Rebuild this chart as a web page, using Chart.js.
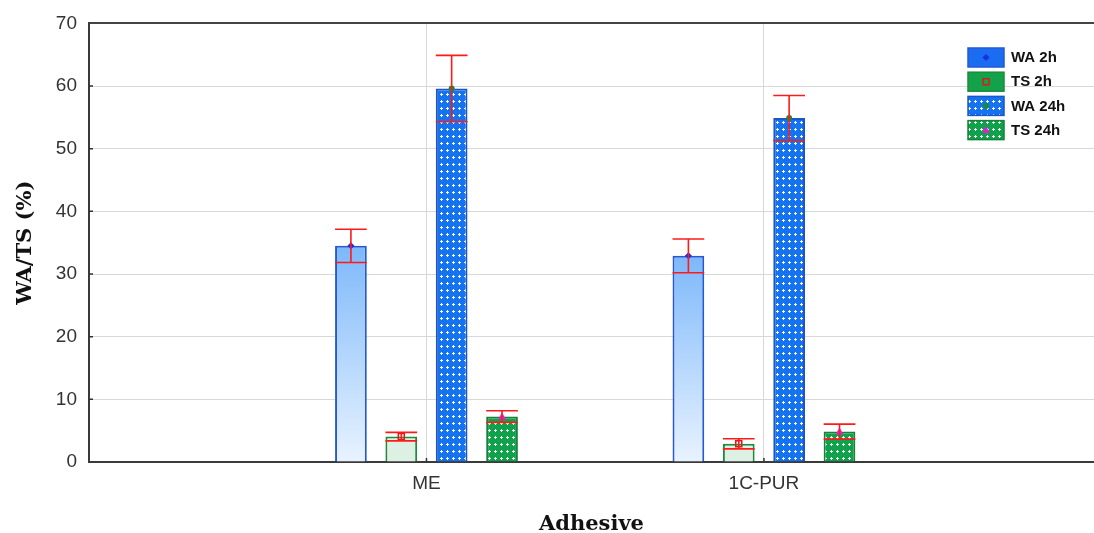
<!DOCTYPE html>
<html>
<head>
<meta charset="utf-8">
<script src="https://cdn.jsdelivr.net/npm/chart.js@4.4.1/dist/chart.umd.min.js"></script>
<style>
body{margin:0;background:#fff;}
#wrap{width:1094px;height:533px;}
</style>
</head>
<body>
<div id="wrap"><canvas id="canvas"></canvas></div>
<script>
var categories = ['ME', '1C-PUR'];
var seriesNames = ['WA 2h', 'TS 2h', 'WA 24h', 'TS 24h'];
var wa2h = [34.5, 32.9];
var wa2hErr = [2.65, 2.7];
var ts2h = [4.05, 2.9];
var ts2hErr = [0.68, 0.8];
var wa24h = [59.6, 54.9];
var wa24hErr = [5.3, 3.6];
var ts24h = [7.25, 4.85];
var ts24hErr = [0.92, 1.2];
var yTicks = [0, 10, 20, 30, 40, 50, 60, 70];

// x is a linear axis: categories sit at 1 and 2
function points(arr){
    return arr.map(function(v, i){ return {x: i + 1, y: v}; });
}

function makePattern(bg){
    var c = document.createElement('canvas');
    c.width = 6; c.height = 7;
    var g = c.getContext('2d');
    g.fillStyle = bg;
    g.fillRect(0, 0, 6, 7);
    g.fillStyle = 'rgba(255,255,255,0.95)';
    g.fillRect(2, 3, 3, 1);
    g.fillRect(3, 2, 1, 3);
    return g.createPattern(c, 'repeat');
}
var bluePattern = makePattern('#1572f0');
var greenPattern = makePattern('#0fa24a');

function blueGradient(c){
    var chart = c.chart;
    if (!chart.chartArea || !chart.scales.y || !c.parsed) return '#a8d0ff';
    var y = chart.scales.y;
    var g = chart.ctx.createLinearGradient(0, y.getPixelForValue(c.parsed.y), 0, y.getPixelForValue(0));
    g.addColorStop(0, '#7db8fa');
    g.addColorStop(1, '#e8f3ff');
    return g;
}

function drawMarker(ctx, kind, x, y, color){
    ctx.save();
    ctx.fillStyle = color;
    ctx.strokeStyle = color;
    ctx.lineWidth = 1.5;
    ctx.beginPath();
    if (kind == 'diamond'){
        ctx.moveTo(x, y - 3.5); ctx.lineTo(x + 3.5, y); ctx.lineTo(x, y + 3.5); ctx.lineTo(x - 3.5, y);
        ctx.closePath(); ctx.fill();
    } else if (kind == 'square'){
        ctx.rect(x - 3, y - 3, 6, 6); ctx.stroke();
    } else if (kind == 'circle'){
        ctx.arc(x, y, 3, 0, Math.PI * 2); ctx.fill();
    } else {
        ctx.moveTo(x, y - 4); ctx.lineTo(x + 4, y + 3); ctx.lineTo(x - 4, y + 3);
        ctx.closePath(); ctx.fill();
    }
    ctx.restore();
}

var errorBars = {
    id: 'errorBars',
    afterDatasetsDraw: function(chart){
        var ctx = chart.ctx, ys = chart.scales.y;
        chart.data.datasets.forEach(function(ds, i){
            var meta = chart.getDatasetMeta(i);
            meta.data.forEach(function(bar, j){
                var v = ds.data[j].y, e = ds.errors[j];
                drawMarker(ctx, ds.marker, bar.x, ys.getPixelForValue(v), ds.markerColor);
                var top = ys.getPixelForValue(v + e), bot = ys.getPixelForValue(v - e), half = bar.width / 2;
                ctx.save();
                ctx.strokeStyle = '#ff1a1a';
                ctx.lineWidth = 1.6;
                ctx.beginPath();
                ctx.moveTo(bar.x, top); ctx.lineTo(bar.x, bot);
                ctx.moveTo(bar.x - half, top); ctx.lineTo(bar.x + half, top);
                ctx.moveTo(bar.x - half, bot); ctx.lineTo(bar.x + half, bot);
                ctx.stroke();
                ctx.restore();
            });
        });
    }
};

var tickMarks = {
    id: 'tickMarks',
    beforeDatasetsDraw: function(chart){
        var ctx = chart.ctx, a = chart.chartArea;
        ctx.save();
        ctx.strokeStyle = '#333';
        ctx.lineWidth = 1.5;
        ctx.beginPath();
        yTicks.slice(1, -1).forEach(function(t){
            var p = chart.scales.y.getPixelForValue(t);
            ctx.moveTo(a.left, p); ctx.lineTo(a.left + 4, p);
        });
        categories.forEach(function(c, i){
            var p = chart.scales.x.getPixelForValue(i + 1);
            ctx.moveTo(p, a.bottom); ctx.lineTo(p, a.bottom - 4);
        });
        ctx.stroke();
        ctx.restore();
    }
};

var legendBox = {
    id: 'legendBox',
    afterDraw: function(chart){
        var ctx = chart.ctx, x = chart.width - 126, y0 = 48;
        chart.data.datasets.forEach(function(ds, i){
            var y = y0 + i * 24.2;
            ctx.save();
            ctx.fillStyle = ds.legendFill;
            ctx.fillRect(x, y, 36, 19);
            ctx.strokeStyle = ds.borderColor;
            ctx.lineWidth = 1.5;
            ctx.strokeRect(x, y, 36, 19);
            drawMarker(ctx, ds.marker, x + 18, y + 9.5, ds.markerColor);
            ctx.fillStyle = '#111';
            ctx.font = 'bold 15px "Liberation Sans", Arial, sans-serif';
            ctx.textBaseline = 'middle';
            ctx.fillText(ds.label, x + 43, y + 10);
            ctx.restore();
        });
    }
};

var ctx = document.getElementById('canvas').getContext('2d');
var myChart = new Chart(ctx, {
    type: 'bar',
    data: {
        datasets: [{
            label: seriesNames[0],
            data: points(wa2h),
            errors: wa2hErr,
            backgroundColor: blueGradient,
            borderColor: '#2458d6',
            borderWidth: 2,
            legendFill: '#1a6cf0',
            marker: 'diamond',
            markerColor: '#1b2fe0'
        }, {
            label: seriesNames[1],
            data: points(ts2h),
            errors: ts2hErr,
            backgroundColor: '#dcf1e3',
            borderColor: '#1f8a3c',
            borderWidth: 2,
            legendFill: '#12a34a',
            marker: 'square',
            markerColor: '#e01818'
        }, {
            label: seriesNames[2],
            data: points(wa24h),
            errors: wa24hErr,
            backgroundColor: bluePattern,
            borderColor: '#1c55c8',
            borderWidth: 2,
            legendFill: bluePattern,
            marker: 'circle',
            markerColor: '#188a3a'
        }, {
            label: seriesNames[3],
            data: points(ts24h),
            errors: ts24hErr,
            backgroundColor: greenPattern,
            borderColor: '#17803a',
            borderWidth: 2,
            legendFill: greenPattern,
            marker: 'triangle',
            markerColor: '#e020d8'
        }]
    },
    options: {
        responsive: true,
        maintainAspectRatio: false,
        animation: false,
        layout: { padding: { top: 21, right: 0, bottom: 0, left: 0 } },
        datasets: { bar: { categoryPercentage: 0.597, barPercentage: 0.63, borderSkipped: 'start' } },
        plugins: { legend: { display: false }, tooltip: { enabled: false } },
        scales: {
            x: {
                type: 'linear',
                min: 0,
                max: 2.978,
                offset: false,
                afterFit: function(s){ s.height = 71; },
                afterBuildTicks: function(s){
                    s.ticks = categories.map(function(c, i){ return {value: i + 1}; });
                },
                ticks: {
                    autoSkip: false,
                    maxRotation: 0,
                    padding: 10,
                    color: '#333',
                    font: { family: '"Liberation Sans", Arial, sans-serif', size: 19 },
                    callback: function(v){ return categories[v - 1]; }
                },
                grid: { offset: false, color: '#d8d8d8', lineWidth: 1, drawTicks: false },
                border: { display: true, color: '#3a3a3a', width: 2 },
                title: {
                    display: true,
                    text: 'Adhesive',
                    color: '#111',
                    padding: { top: 0, bottom: 0 },
                    font: { family: '"DejaVu Serif", serif', size: 21, weight: 'bold', lineHeight: 0.8 }
                }
            },
            y: {
                min: yTicks[0],
                max: yTicks[yTicks.length - 1],
                afterFit: function(s){ s.width = 89; },
                ticks: {
                    stepSize: 10,
                    padding: 12,
                    color: '#333',
                    font: { family: '"Liberation Sans", Arial, sans-serif', size: 19 }
                },
                grid: {
                    drawTicks: false,
                    color: function(c){ return (c.tick && (c.tick.value == 70 || c.tick.value == 0)) ? '#444' : '#d8d8d8'; },
                    lineWidth: function(c){ return (c.tick && c.tick.value == 70) ? 2 : 1; }
                },
                border: { display: true, color: '#3a3a3a', width: 2 },
                title: {
                    display: true,
                    text: 'WA/TS (%)',
                    color: '#111',
                    padding: { top: 17, bottom: 0 },
                    font: { family: '"DejaVu Serif", serif', size: 21, weight: 'bold', lineHeight: 0.8 }
                }
            }
        }
    },
    plugins: [tickMarks, errorBars, legendBox]
});
</script>
</body>
</html>
